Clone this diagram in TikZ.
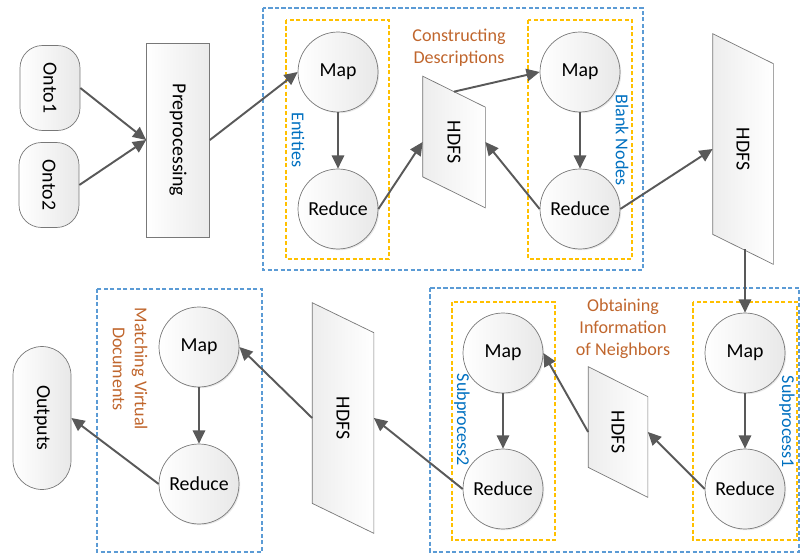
\documentclass[tikz,border=0pt]{standalone}
\usepackage{fontspec}
\setmainfont{Carlito}
\usepackage{tikz}
\usetikzlibrary{arrows.meta}
\usetikzlibrary{backgrounds}
\usetikzlibrary{shadows}
\definecolor{ColA}{RGB}{120,120,120}
\definecolor{ColB}{RGB}{89,89,89}
\definecolor{ColC}{RGB}{91,155,213}
\definecolor{ColD}{RGB}{255,192,0}
\definecolor{ColE}{RGB}{0,112,192}
\definecolor{ColF}{RGB}{192,102,45}
\newcommand{\vtext}[1]{\rotatebox{-90}{#1}}
% parallelogram drawn behind a named HDFS node: #1 name, #2 half skew
\newcommand{\hdfsbox}[2]{%
  \begin{scope}[on background layer]
    \draw[HdfsShape]([yshift=#2]#1.north west)--([yshift=-#2]#1.north east)
      --([yshift=-#2]#1.south east)--([yshift=#2]#1.south west)--cycle;
  \end{scope}}
\tikzstyle{NodeMR}=[circle,draw=ColA,left color=white,right color=black!9,
drop shadow={opacity=0.18,shadow xshift=0.7pt,shadow yshift=-0.7pt},
minimum size=1.6cm,inner sep=0pt,font=\fontsize{11.3}{13}\selectfont]
\tikzstyle{NodeTerm}=[rectangle,draw=ColA,left color=white,right color=black!9,
rounded corners=0.45cm,inner sep=0pt,font=\fontsize{11.3}{13}\selectfont]
\tikzstyle{NodeProc}=[rectangle,draw=ColA,left color=white,right color=black!8,
inner sep=0pt,font=\fontsize{11.3}{13}\selectfont]
\tikzstyle{NodeHdfs}=[rectangle,inner sep=0pt,font=\fontsize{11.3}{13}\selectfont]
\tikzstyle{HdfsShape}=[draw=ColA,left color=black!7,right color=white]
\tikzstyle{EdgeFlow}=[ColB,line width=1.1pt,-{Triangle[length=7.5pt,width=7pt]}]
\tikzstyle{BoxStage}=[ColC,line width=0.6pt,dash pattern=on 2.5pt off 1.2pt]
\tikzstyle{BoxTask}=[ColD,line width=0.6pt,dash pattern=on 2.5pt off 1.2pt]
\tikzstyle{LabelStage}=[text=ColF,align=center,font=\fontsize{10.3}{12.5}\selectfont]
\tikzstyle{LabelTask}=[text=ColE,font=\fontsize{10.3}{12.5}\selectfont]

\begin{document}
\begin{tikzpicture}[x=0.02cm,y=-0.02cm]
        \useasboundingbox(0,0)rectangle(800,553);
        % dashed frames
        \draw[BoxStage](263,8)rectangle(643,270);
        \draw[BoxStage](430,288)rectangle(799,552);
        \draw[BoxStage](97,289)rectangle(262,552);
        \draw[BoxTask](286,20)rectangle(389,259);
        \draw[BoxTask](528,20)rectangle(632,259);
        \draw[BoxTask](452,302)rectangle(555,540);
        \draw[BoxTask](693,302)rectangle(797,540);
        % inputs and preprocessing
        \node[NodeTerm,minimum width=1.2cm,minimum height=1.7cm](o1)at(50,88){\vtext{Onto1}};
        \node[NodeTerm,minimum width=1.2cm,minimum height=1.7cm](o2)at(49,185){\vtext{Onto2}};
        \node[NodeProc,minimum width=1.26cm,minimum height=3.88cm](pre)at(178,140){\vtext{Preprocessing}};
        % constructing descriptions
        \node[NodeMR](m1)at(338,72){Map};
        \node[NodeMR](r1)at(338,209){Reduce};
        \node[NodeHdfs,minimum width=1.24cm,minimum height=2cm](h1)at(454,142){\vtext{HDFS}};
        \node[NodeMR](m2)at(580,72){Map};
        \node[NodeMR](r2)at(580,209){Reduce};
        \node[NodeHdfs,minimum width=1.2cm,minimum height=4cm](h2)at(743,149){\vtext{HDFS}};
        \node[LabelStage](lDesc)at(459,48){Constructing\\Descriptions};
        \node[LabelTask,rotate=-90](lEnt)at(298,140){Entities};
        \node[LabelTask,rotate=-90](lBlank)at(622,140){Blank Nodes};
        % obtaining information of neighbors
        \node[NodeMR](m3)at(745,353){Map};
        \node[NodeMR](r3)at(745,489){Reduce};
        \node[NodeHdfs,minimum width=1.18cm,minimum height=2cm](h3)at(618,432){\vtext{HDFS}};
        \node[NodeMR](m4)at(503,353){Map};
        \node[NodeMR](r4)at(503,489){Reduce};
        \node[NodeHdfs,minimum width=1.22cm,minimum height=4cm](h4)at(343,418){\vtext{HDFS}};
        \node[LabelStage](lNeigh)at(623,329){Obtaining\\Information\\of Neighbors};
        \node[LabelTask,rotate=-90](lSub1)at(787,422){Subprocess1};
        \node[LabelTask,rotate=-90](lSub2)at(462,420){Subprocess2};
        % matching virtual documents
        \node[NodeMR](m5)at(199,347){Map};
        \node[NodeMR](r5)at(199,484){Reduce};
        \node[NodeTerm,rounded corners=0.58cm,minimum width=1.16cm,minimum height=2.86cm](out)at(42,418){\vtext{Outputs}};
        \node[LabelStage,rotate=-90](lMatch)at(130,369){Matching Virtual\\Documents};
        \hdfsbox{h1}{0.31cm}
        \hdfsbox{h2}{0.3cm}
        \hdfsbox{h3}{0.3cm}
        \hdfsbox{h4}{0.3cm}
        % flow
        \draw[EdgeFlow](o1.east)--(pre.west);
        \draw[EdgeFlow](o2.east)--(pre.west);
        \draw[EdgeFlow](pre.east)--(m1.west);
        \draw[EdgeFlow](m1.south)--(r1.north);
        \draw[EdgeFlow](r1.east)--(h1.west);
        \draw[EdgeFlow](h1.north)--(m2.west);
        \draw[EdgeFlow](m2.south)--(r2.north);
        \draw[EdgeFlow](r2.west)--(h1.east);
        \draw[EdgeFlow](r2.east)--(h2.west);
        \draw[EdgeFlow](m3.north|-h2.south)--(m3.north);
        \draw[EdgeFlow](m3.south)--(r3.north);
        \draw[EdgeFlow](r3.west)--(h3.east);
        \draw[EdgeFlow](h3.west)--(m4.east);
        \draw[EdgeFlow](m4.south)--(r4.north);
        \draw[EdgeFlow](r4.west)--(h4.east);
        \draw[EdgeFlow](h4.west)--(m5.east);
        \draw[EdgeFlow](m5.south)--(r5.north);
        \draw[EdgeFlow](r5.west)--(out.east);
    \end{tikzpicture}
\end{document}
